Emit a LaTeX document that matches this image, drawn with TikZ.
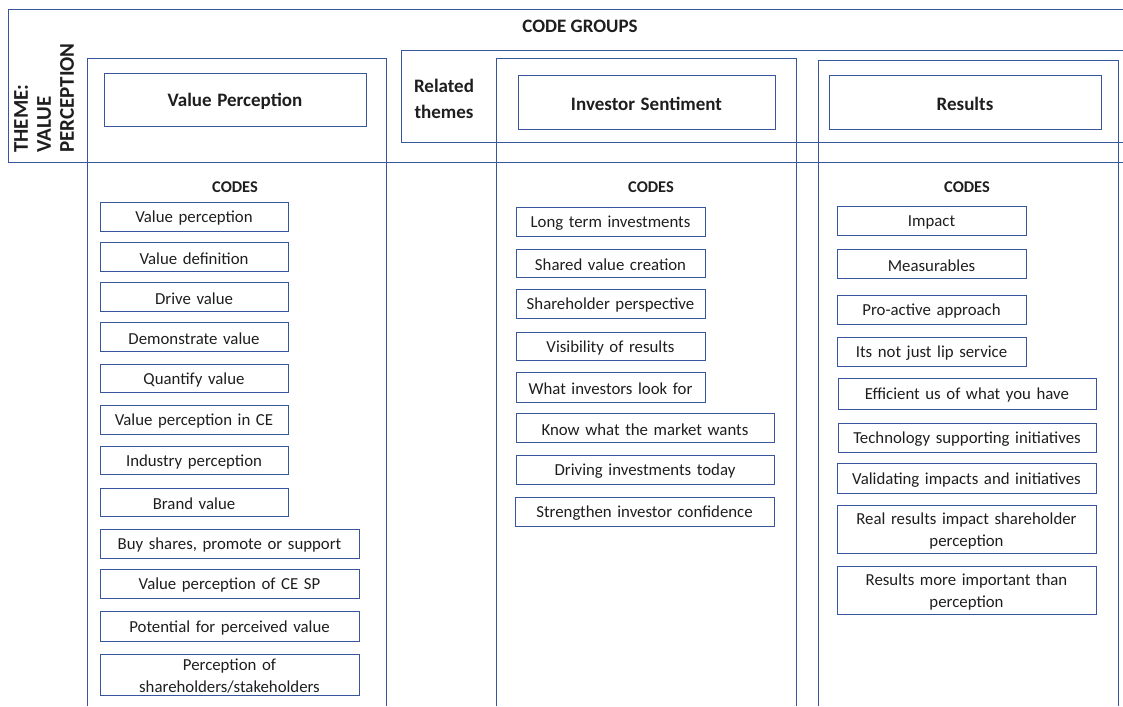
\documentclass[tikz,border=0pt]{standalone}
\usepackage{fontspec}
\setmainfont{Carlito}
\definecolor{lineblue}{RGB}{55,86,155}
\definecolor{ink}{RGB}{30,30,30}
% a framed code: outline node plus its centred caption
\newcommand{\codeitem}[6]{%
  \node[codebox, minimum width={(#4-#2)*1pt}, minimum height={(#5-#3)*1pt}]
        (#1) at ({(#2+#4)/2},{(#3+#5)/2}) {};
  \node[codetext, text width={(#4-#2-8)*1pt}] (#1t) at ([yshift=-2pt]#1.center) {#6};}
\newcommand{\headfont}{\bfseries\fontsize{19}{23}\selectfont}
\begin{document}
\begin{tikzpicture}[x=1pt,y=-1pt,
  frame/.style={draw=lineblue, line width=0.9pt},
  codebox/.style={draw=lineblue, line width=0.9pt, inner sep=0pt},
  codetext/.style={inner sep=0pt, align=center, text=ink,
    font=\fontsize{16.8}{22}\selectfont},
  label/.style={text=ink, inner sep=0pt, font=\bfseries\fontsize{19}{26}\selectfont, align=center},
  codes/.style={text=ink, inner sep=0pt, font=\bfseries\fontsize{16.4}{19}\selectfont}]
\useasboundingbox (0,0) rectangle (1123,706);

% outer frame of the code-group table
\draw[frame] (1123,9) -- (8,9) -- (8,162) -- (1123,162);
% related-themes band
\draw[frame] (1123,50) -- (401,50) -- (401,142) -- (1123,142);
% the three theme columns, open at the bottom
\draw[frame] (87,706) -- (87,58) -- (386,58) -- (386,706);
\draw[frame] (496,706) -- (496,58) -- (796,58) -- (796,706);
\draw[frame] (818,706) -- (818,60) -- (1118,60) -- (1118,706);

% titles
\node[label] (groups) at (580,26) {CODE GROUPS};
\node[label, rotate=90, anchor=north west, align=left,
      font=\bfseries\fontsize{21}{23}\selectfont] (theme) at (14,153)
      {THEME:\\VALUE\\PERCEPTION};
\node[label] (related) at (444,99) {Related\\themes};

% column headers
\codeitem{hvp}{104}{73}{366}{126}{\headfont Value Perception}
\codeitem{his}{518}{75}{775}{129}{\headfont Investor Sentiment}
\codeitem{hres}{829}{75}{1101}{129}{\headfont Results}

\node[codes] (codesA) at (235,187) {CODES};
\node[codes] (codesB) at (651,187) {CODES};
\node[codes] (codesC) at (967,187) {CODES};

% codes: value perception
\codeitem{a1}{100}{202}{288}{231}{Value perception}
\codeitem{a2}{100}{242}{288}{271}{Value definition}
\codeitem{a3}{100}{282}{288}{311}{Drive value}
\codeitem{a4}{100}{322}{288}{351}{Demonstrate value}
\codeitem{a5}{100}{364}{288}{392}{Quantify value}
\codeitem{a6}{100}{405}{288}{434}{Value perception in CE}
\codeitem{a7}{100}{446}{288}{474}{Industry perception}
\codeitem{a8}{100}{488}{288}{516}{Brand value}
\codeitem{a9}{100}{529}{359}{558}{Buy shares, promote or support}
\codeitem{a10}{100}{569}{359}{598}{Value perception of CE SP}
\codeitem{a11}{100}{611}{359}{641}{Potential for perceived value}
\codeitem{a12}{100}{654}{359}{695}{Perception of\\shareholders/stakeholders}

% codes: investor sentiment
\codeitem{b1}{516}{207}{705}{236}{Long term investments}
\codeitem{b2}{516}{249}{705}{277}{Shared value creation}
\codeitem{b3}{516}{289}{705}{318}{Shareholder perspective}
\codeitem{b4}{516}{332}{705}{360}{Visibility of results}
\codeitem{b5}{516}{372}{705}{402}{What investors look for}
\codeitem{b6}{516}{413}{774}{442}{Know what the market wants}
\codeitem{b7}{516}{455}{774}{484}{Driving investments today}
\codeitem{b8}{515}{497}{774}{526}{Strengthen investor confidence}

% codes: results
\codeitem{c1}{837}{206}{1026}{235}{Impact}
\codeitem{c2}{837}{249}{1026}{278}{Measurables}
\codeitem{c3}{837}{295}{1026}{324}{Pro-active approach}
\codeitem{c4}{837}{337}{1026}{366}{Its not just lip service}
\codeitem{c5}{838}{378}{1096}{409}{Efficient us of what you have}
\codeitem{c6}{838}{423}{1096}{452}{Technology supporting initiatives}
\codeitem{c7}{837}{463}{1096}{493}{Validating impacts and initiatives}
\codeitem{c8}{837}{505}{1096}{553}{Real results impact shareholder\\perception}
\codeitem{c9}{837}{566}{1096}{614}{Results more important than\\perception}
\end{tikzpicture}
\end{document}
